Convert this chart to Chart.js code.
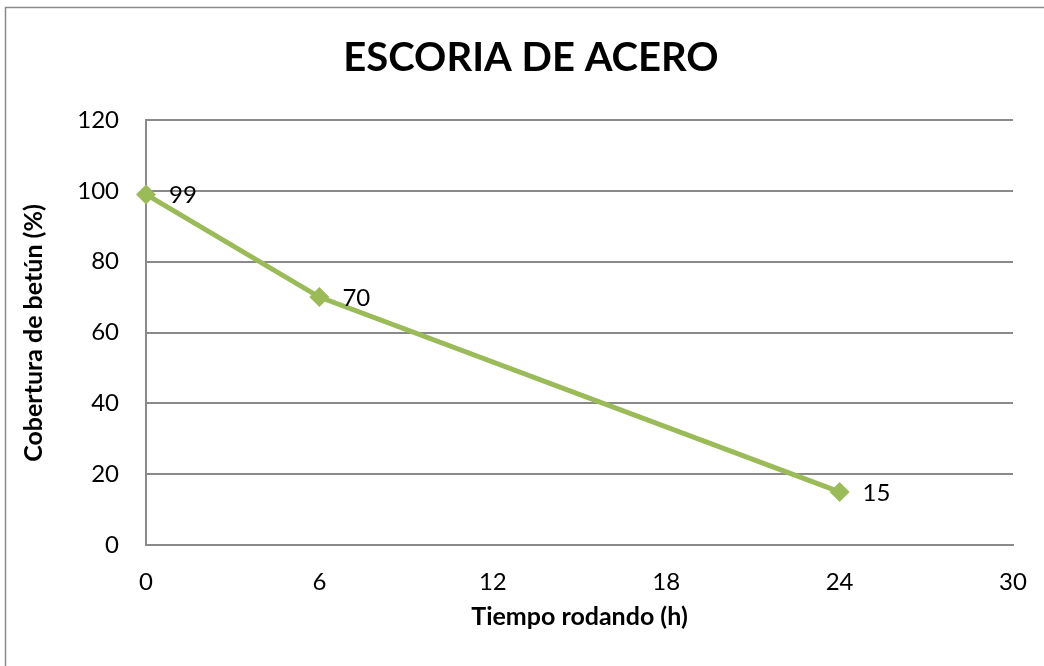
<!DOCTYPE html>
<html>
<head>
<meta charset="utf-8">
<title>ESCORIA DE ACERO</title>
<script src="https://cdn.jsdelivr.net/npm/chart.js@4/dist/chart.umd.min.js"></script>
<style>
  html, body { margin: 0; padding: 0; background: #ffffff; }
  canvas { display: block; }
</style>
</head>
<body>
<canvas id="chart" width="1044" height="666"></canvas>
<script>
// Rolling time (hours) and remaining bitumen coverage (%)
const hours = [0, 6, 24];
const coverage = [99, 70, 15];

const chartTitle = 'ESCORIA DE ACERO';
const xTitle = 'Tiempo rodando (h)';
const yTitle = 'Cobertura de betún (%)';

const FONT = 'Lato, "Open Sans", "DejaVu Sans", sans-serif';
const GREEN = '#9BBB59';
const GRID = '#8a8a8a';

// Frame, titles and point labels drawn on the canvas
const decorations = {
  id: 'decorations',
  beforeDraw(chart) {
    const ctx = chart.ctx;
    ctx.save();
    ctx.fillStyle = '#ffffff';
    ctx.fillRect(0, 0, chart.width, chart.height);
    ctx.strokeStyle = GRID;
    ctx.lineWidth = 1.5;
    ctx.strokeRect(5.5, 7.5, chart.width + 20, chart.height + 20);
    ctx.restore();
  },
  afterDraw(chart) {
    const ctx = chart.ctx;
    const area = chart.chartArea;
    ctx.save();
    ctx.fillStyle = '#000000';
    ctx.textAlign = 'center';
    ctx.textBaseline = 'middle';

    ctx.font = 'bold 40px ' + FONT;
    ctx.fillText(chartTitle, 531, 58);

    ctx.font = 'bold 25px ' + FONT;
    ctx.fillText(xTitle, (area.left + area.right) / 2, 617);

    ctx.save();
    ctx.translate(34, 333);
    ctx.rotate(-Math.PI / 2);
    ctx.fillText(yTitle, 0, 0);
    ctx.restore();

    ctx.font = '24px ' + FONT;
    ctx.textAlign = 'left';
    const meta = chart.getDatasetMeta(0);
    meta.data.forEach((pt, i) => {
      ctx.fillText(String(coverage[i]), pt.x + 23, pt.y + 1);
    });
    ctx.restore();
  }
};

new Chart(document.getElementById('chart'), {
  type: 'line',
  data: {
    datasets: [{
      data: hours.map((h, i) => ({ x: h, y: coverage[i] })),
      borderColor: GREEN,
      backgroundColor: GREEN,
      borderWidth: 5,
      pointStyle: 'rectRot',
      pointRadius: 10,
      pointHoverRadius: 10,
      pointBackgroundColor: GREEN,
      pointBorderColor: GREEN,
      pointBorderWidth: 0,
      tension: 0,
      fill: false,
      clip: false
    }]
  },
  plugins: [decorations],
  options: {
    responsive: false,
    animation: false,
    events: [],
    layout: { padding: { top: 120, right: 31, bottom: 0, left: 0 } },
    plugins: {
      legend: { display: false },
      title: { display: false },
      tooltip: { enabled: false }
    },
    scales: {
      x: {
        type: 'linear',
        min: 0,
        max: 30,
        afterFit(scale) {
          scale.height = 121;
          scale.paddingLeft = 0;
          scale.paddingRight = 0;
        },
        grid: { display: false, drawTicks: false },
        border: { display: true, color: GRID, width: 2 },
        ticks: {
          stepSize: 6,
          padding: 23,
          color: '#000000',
          font: { family: FONT, size: 24 }
        }
      },
      y: {
        min: 0,
        max: 120,
        afterFit(scale) { scale.width = 146; },
        grid: { display: true, color: GRID, lineWidth: 2, drawTicks: false },
        border: { display: true, color: GRID, width: 2 },
        ticks: {
          stepSize: 20,
          padding: 27,
          color: '#000000',
          font: { family: FONT, size: 24 }
        }
      }
    }
  }
});
</script>
</body>
</html>
